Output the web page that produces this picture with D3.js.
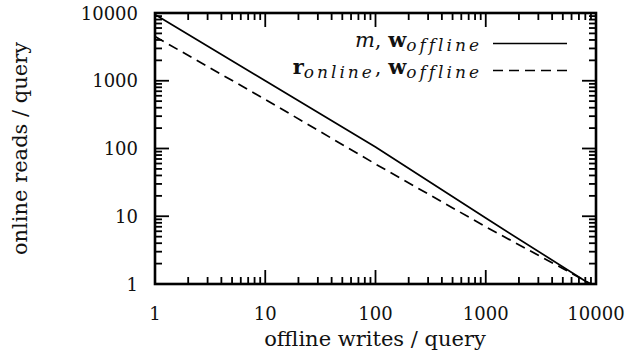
<!DOCTYPE html>
<html>
<head>
<meta charset="utf-8">
<script src="https://cdn.jsdelivr.net/npm/d3@7/dist/d3.min.js"></script>
<style>
  html, body { margin: 0; padding: 0; background: #fff; }
  svg { display: block; }
  text { font-family: "DejaVu Serif", serif; fill: #111; }
</style>
</head>
<body>
<svg id="chart" width="628" height="355"></svg>
<script>
// offline writes per query (x) vs online reads per query (y)
const mWrites = [1, 10, 100, 1000, 8800];
const mReads  = [9500, 1000, 105, 9.4, 1];

const rWrites = [1, 10, 100, 1000, 3000, 5000, 9000];
const rReads  = [4500, 530, 59, 7, 2.65, 1.7, 1];

const xTicks = [1, 10, 100, 1000, 10000];
const yTicks = [1, 10, 100, 1000, 10000];

const xTitle = "offline writes / query";
const yTitle = "online reads / query";

const W = 628, H = 355;
const plot = { left: 155, right: 596, top: 13, bottom: 284 };
const pw = plot.right - plot.left, ph = plot.bottom - plot.top;

const svg = d3.select("#chart");

const x = d3.scaleLog().domain([1, 10000]).range([plot.left, plot.right]);
const y = d3.scaleLog().domain([1, 10000]).range([plot.bottom, plot.top]);

// minor ticks: 2..9 within every decade
function minorTicks(lo, hi) {
  const out = [];
  for (let d = lo; d < hi; d *= 10)
    for (let k = 2; k <= 9; k++) out.push(d * k);
  return out;
}
const xMinor = minorTicks(1, 10000);
const yMinor = minorTicks(1, 10000);

// curves
const line = d3.line().x(d => x(d[0])).y(d => y(d[1]));
const curves = svg.append("g")
  .attr("fill", "none").attr("stroke", "#000").attr("stroke-width", 1.7);

curves.append("path").attr("d", line(d3.zip(mWrites, mReads)));
curves.append("path").attr("d", line(d3.zip(rWrites, rReads)))
  .attr("stroke-dasharray", "10,6");

// frame
svg.append("rect")
  .attr("x", plot.left).attr("y", plot.top).attr("width", pw).attr("height", ph)
  .attr("fill", "none").attr("stroke", "#000").attr("stroke-width", 2.6);

// inward ticks on all four sides, drawn as thin filled bars
const MAJ = 14;
const MIN = 7;
const TW = 1.8;
const xTickData = xTicks.map(v => ({ v, len: MAJ })).concat(xMinor.map(v => ({ v, len: MIN })));
const yTickData = yTicks.map(v => ({ v, len: MAJ })).concat(yMinor.map(v => ({ v, len: MIN })));

const ticks = svg.append("g").attr("fill", "#000");
ticks.selectAll("rect.xb").data(xTickData).join("rect").attr("class", "xb")
  .attr("x", d => x(d.v) - TW / 2).attr("width", TW)
  .attr("y", d => plot.bottom - d.len).attr("height", d => d.len);
ticks.selectAll("rect.xt").data(xTickData).join("rect").attr("class", "xt")
  .attr("x", d => x(d.v) - TW / 2).attr("width", TW)
  .attr("y", plot.top).attr("height", d => d.len);
ticks.selectAll("rect.yl").data(yTickData).join("rect").attr("class", "yl")
  .attr("y", d => y(d.v) - TW / 2).attr("height", TW)
  .attr("x", plot.left).attr("width", d => d.len);
ticks.selectAll("rect.yr").data(yTickData).join("rect").attr("class", "yr")
  .attr("y", d => y(d.v) - TW / 2).attr("height", TW)
  .attr("x", d => plot.right - d.len).attr("width", d => d.len);

// tick labels
svg.append("g").selectAll("text").data(xTicks).join("text")
  .attr("x", d => x(d)).attr("y", 320)
  .attr("text-anchor", "middle").attr("font-size", 18)
  .text(d => d);

svg.append("g").selectAll("text").data(yTicks).join("text")
  .attr("x", 138).attr("y", d => y(d) + 6.5)
  .attr("text-anchor", "end").attr("font-size", 18)
  .text(d => d);

// axis titles
svg.append("text").attr("x", 375).attr("y", 346)
  .attr("text-anchor", "middle").attr("font-size", 21).text(xTitle);
svg.append("text")
  .attr("transform", "translate(26.5,148.5) rotate(-90)")
  .attr("text-anchor", "middle").attr("font-size", 21).text(yTitle);

// key
const key = svg.append("g");
const keyRight = 482;
const keyRows = [
  { y: 47, parts: [["m", "italic", "normal", false], [", ", "normal", "normal", false],
                   ["w", "normal", "bold", false], ["offline", "italic", "normal", true]],
    dash: null, ly: 43.5 },
  { y: 74, parts: [["r", "normal", "bold", false], ["online", "italic", "normal", true],
                   [", ", "normal", "normal", false],
                   ["w", "normal", "bold", false], ["offline", "italic", "normal", true]],
    dash: "10,6", ly: 70.5 }
];
keyRows.forEach(row => {
  const t = key.append("text").attr("x", keyRight).attr("y", row.y)
    .attr("text-anchor", "end").attr("font-size", 21);
  let sub = false;
  row.parts.forEach(([s, style, weight, isSub]) => {
    const ts = t.append("tspan").attr("font-style", style).attr("font-weight", weight).text(s);
    if (isSub) {
      ts.attr("font-size", 17).attr("letter-spacing", 3);
      if (!sub) { ts.attr("dy", 3.5); sub = true; }
    } else if (sub) {
      ts.attr("dy", -3.5); sub = false;
    }
  });
  const lp = d3.path();
  lp.moveTo(493, row.ly); lp.lineTo(567, row.ly);
  const ln = key.append("path").attr("d", lp.toString())
    .attr("fill", "none").attr("stroke", "#000").attr("stroke-width", 1.7);
  if (row.dash) ln.attr("stroke-dasharray", row.dash);
});
</script>
</body>
</html>
